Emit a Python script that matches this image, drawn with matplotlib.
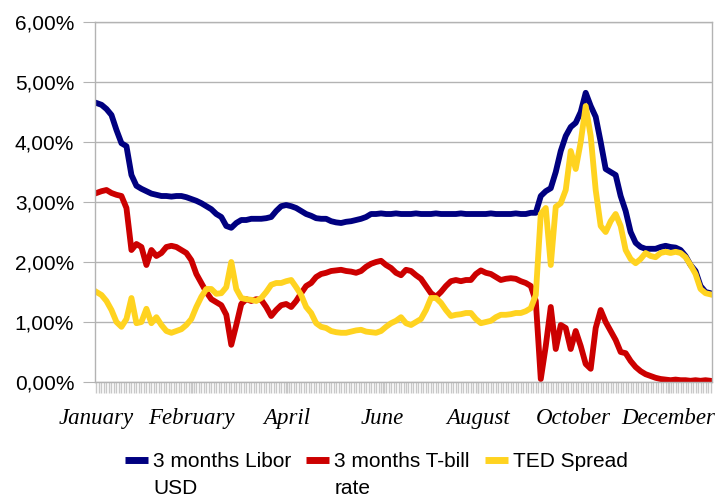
import matplotlib
matplotlib.use("Agg")
import matplotlib.pyplot as plt
from matplotlib.ticker import FixedLocator, MultipleLocator, FuncFormatter

# 2008, sampled roughly every second trading day (values in %)
libor = [4.65, 4.62, 4.55, 4.45, 4.20, 3.98, 3.93, 3.45, 3.27, 3.22,
         3.18, 3.14, 3.12, 3.10, 3.10, 3.09, 3.10, 3.10, 3.08, 3.05,
         3.02, 2.98, 2.93, 2.88, 2.80, 2.75, 2.60, 2.57, 2.65, 2.70,
         2.70, 2.72, 2.72, 2.72, 2.73, 2.75, 2.85, 2.93, 2.95, 2.93,
         2.90, 2.85, 2.80, 2.77, 2.73, 2.72, 2.72, 2.68, 2.66, 2.65,
         2.67, 2.68, 2.70, 2.72, 2.75, 2.80, 2.80, 2.81, 2.80, 2.80,
         2.81, 2.80, 2.80, 2.80, 2.81, 2.80, 2.80, 2.80, 2.81, 2.80,
         2.80, 2.80, 2.80, 2.81, 2.80, 2.80, 2.80, 2.80, 2.80, 2.81,
         2.80, 2.80, 2.80, 2.80, 2.81, 2.80, 2.80, 2.82, 2.82, 3.10,
         3.18, 3.23, 3.50, 3.85, 4.10, 4.25, 4.32, 4.50, 4.82, 4.60,
         4.42, 4.00, 3.55, 3.50, 3.45, 3.10, 2.85, 2.50, 2.32, 2.25,
         2.22, 2.22, 2.22, 2.25, 2.27, 2.25, 2.24, 2.20, 2.10, 1.95,
         1.85, 1.60, 1.50, 1.48]

tbill = [3.15, 3.18, 3.20, 3.15, 3.12, 3.10, 2.90, 2.20, 2.30, 2.25,
         1.95, 2.20, 2.10, 2.15, 2.25, 2.27, 2.25, 2.20, 2.15, 2.03,
         1.80, 1.65, 1.50, 1.38, 1.33, 1.28, 1.12, 0.62, 0.95, 1.30,
         1.38, 1.35, 1.38, 1.37, 1.25, 1.10, 1.20, 1.28, 1.30, 1.25,
         1.35, 1.48, 1.60, 1.65, 1.75, 1.80, 1.82, 1.85, 1.86, 1.87,
         1.85, 1.84, 1.82, 1.85, 1.92, 1.97, 2.00, 2.02, 1.95, 1.90,
         1.82, 1.78, 1.87, 1.85, 1.78, 1.72, 1.60, 1.48, 1.42, 1.50,
         1.60, 1.68, 1.70, 1.68, 1.70, 1.70, 1.80, 1.86, 1.82, 1.80,
         1.75, 1.70, 1.72, 1.73, 1.72, 1.68, 1.65, 1.60, 1.35, 0.05,
         0.60, 1.25, 0.55, 0.95, 0.90, 0.55, 0.85, 0.60, 0.30, 0.22,
         0.90, 1.20, 1.00, 0.85, 0.70, 0.50, 0.48, 0.35, 0.25, 0.18,
         0.13, 0.10, 0.07, 0.05, 0.04, 0.03, 0.04, 0.03, 0.03, 0.02,
         0.03, 0.02, 0.03, 0.02]

ted = [1.50, 1.45, 1.35, 1.20, 1.00, 0.92, 1.05, 1.40, 0.98, 1.00,
       1.22, 0.98, 1.08, 0.95, 0.85, 0.82, 0.85, 0.88, 0.95, 1.05,
       1.25, 1.42, 1.55, 1.55, 1.47, 1.48, 1.58, 2.00, 1.55, 1.40,
       1.38, 1.37, 1.35, 1.40, 1.50, 1.62, 1.65, 1.65, 1.68, 1.70,
       1.58, 1.45, 1.25, 1.15, 0.98, 0.92, 0.90, 0.85, 0.83, 0.82,
       0.82, 0.84, 0.86, 0.87, 0.84, 0.83, 0.82, 0.85, 0.92, 0.98,
       1.02, 1.08, 0.98, 0.95, 1.00, 1.05, 1.20, 1.40, 1.40, 1.32,
       1.20, 1.10, 1.12, 1.13, 1.15, 1.15, 1.05, 0.98, 1.00, 1.02,
       1.08, 1.12, 1.12, 1.13, 1.15, 1.15, 1.18, 1.23, 1.45, 2.80,
       2.90, 1.95, 2.92, 2.98, 3.20, 3.85, 3.55, 4.00, 4.60, 4.10,
       3.20, 2.60, 2.50, 2.68, 2.80, 2.60, 2.20, 2.05, 1.98, 2.05,
       2.15, 2.10, 2.08, 2.15, 2.17, 2.15, 2.17, 2.15, 2.08, 1.95,
       1.80, 1.55, 1.48, 1.46]

month_labels = ["January", "February", "April", "June", "August", "October", "December"]
label_pos = [0, 19.1, 38.2, 57.3, 76.4, 95.5, 114.6]

series_names = [("3 months Libor", "USD"), ("3 months T-bill", "rate"), ("TED Spread", "")]
colors = ["#000080", "#CC0000", "#FFD320"]

x = list(range(len(libor)))

fig = plt.figure(figsize=(7.24, 5.0), dpi=100)
ax = fig.add_axes([95 / 724, 1 - 382 / 500, 617 / 724, 360 / 500])

for vals, name, c in zip([libor, tbill, ted], series_names, colors):
    ax.plot(x, vals, color=c, lw=4.2, label=name[0], solid_joinstyle="round")

ax.set_xlim(-0.3, len(x) - 0.7)
ax.set_ylim(0, 6)
ax.yaxis.set_major_locator(MultipleLocator(1))
ax.yaxis.set_major_formatter(FuncFormatter(lambda v, p: f"{v:.2f}%".replace(".", ",")))
ax.grid(axis="y", color="#b3b3b3", lw=1)
ax.set_axisbelow(True)

ax.xaxis.set_major_locator(FixedLocator(label_pos))
ax.set_xticklabels(month_labels, family="Liberation Serif", style="italic", fontsize=16.5)
ax.xaxis.set_minor_locator(MultipleLocator(0.5))
ax.tick_params(axis="x", which="both", direction="out", length=8, color="#c8c8c8", width=1)
ax.tick_params(axis="x", which="major", pad=11)
ax.tick_params(axis="y", direction="out", length=8.5, color="#b3b3b3", pad=6.5)
for lab in ax.get_yticklabels():
    lab.set_family("Liberation Sans")
    lab.set_fontsize(15)

for s in ax.spines.values():
    s.set_color("#b3b3b3")
    s.set_linewidth(1)

leg = fig.legend(loc="upper left", bbox_to_anchor=(125 / 724, 1 - 452 / 500), ncol=3,
                 frameon=False, prop={"family": "Liberation Sans", "size": 15},
                 handlelength=1.1, handletextpad=0.25, columnspacing=0.72,
                 borderpad=0, borderaxespad=0)
for line in leg.get_lines():
    line.set_linewidth(5)
    line.set_solid_capstyle("butt")

# second lines of the wrapped legend labels
fig.canvas.draw()
r = fig.canvas.get_renderer()
for t, name in zip(leg.get_texts(), series_names):
    if name[1]:
        bb = t.get_window_extent(r)
        fig.text(bb.x0 / 724, (bb.y1 - 27) / 500, name[1], family="Liberation Sans",
                 fontsize=15, ha="left", va="top")

fig.savefig("out.png", dpi=100)
